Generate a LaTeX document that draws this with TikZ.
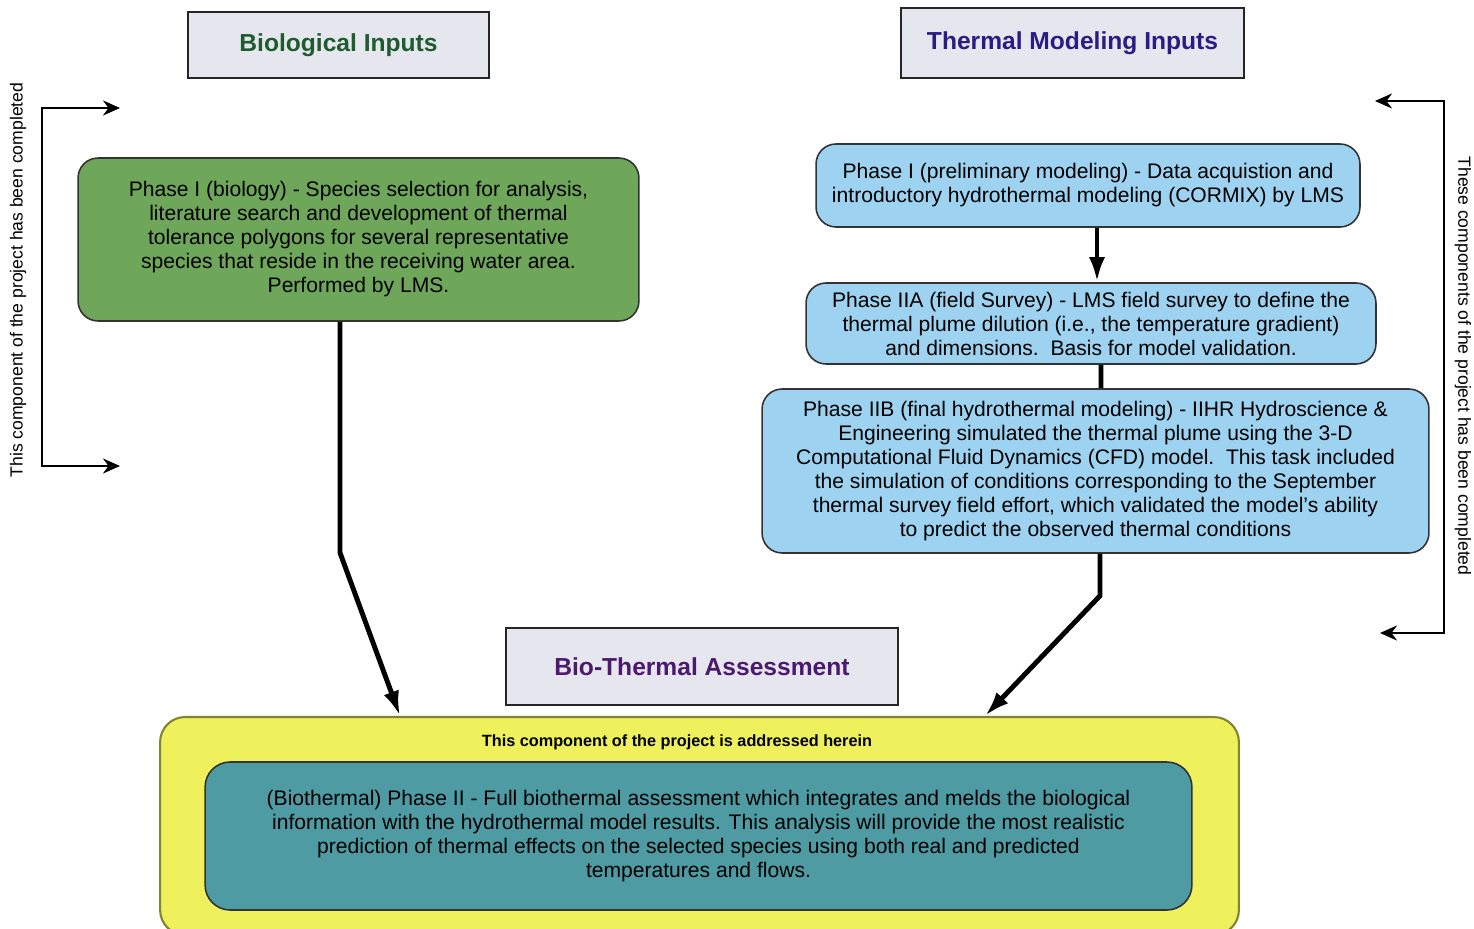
\documentclass[tikz,border=0pt]{standalone}
\usepackage{fontspec}
\setmainfont{Liberation Sans}
\usetikzlibrary{arrows.meta,calc}
\definecolor{TitleFill}{HTML}{E6E6EE}
\definecolor{BioGreen}{HTML}{6EA65A}
\definecolor{BioText}{HTML}{1E5B2E}
\definecolor{ThermBlue}{HTML}{9DD3F0}
\definecolor{ThermText}{HTML}{2B1C85}
\definecolor{AssessText}{HTML}{4B1A6E}
\definecolor{HereYellow}{HTML}{EEF05C}
\definecolor{HereTeal}{HTML}{4E9BA3}

\begin{document}
\begin{tikzpicture}[
  x=0.02cm,y=-0.02cm,
  font=\fontsize{12}{13.66}\selectfont,
  >=Latex,
  titlebox/.style={draw=black!85,line width=1.3pt,fill=TitleFill,inner sep=0pt,font=\fontsize{14}{16}\selectfont\bfseries},
  phasebox/.style={draw=black!80,line width=0.9pt,rounded corners=4mm,align=center,inner sep=0pt},
  biobox/.style={phasebox,fill=BioGreen},
  thermbox/.style={phasebox,fill=ThermBlue},
  flow/.style={-{Latex[length=5mm,width=3.2mm]},line width=2.8pt},
  bracket/.style={{Stealth[length=3.4mm,width=3mm]}-{Stealth[length=3.4mm,width=3mm]},line width=1.3pt}
]
\useasboundingbox (0,0) rectangle (1474,929);

% titles
\node[titlebox,minimum width=6.02cm,minimum height=1.32cm,text=BioText] (biotitle) at (338.5,45) {Biological Inputs};
\node[titlebox,minimum width=6.86cm,minimum height=1.40cm,text=ThermText] (thermtitle) at (1072.5,43) {Thermal Modeling Inputs};
\node[titlebox,minimum width=7.84cm,minimum height=1.54cm,text=AssessText] (assesstitle) at (702,666.5) {Bio-Thermal Assessment};

% biology input
\node[biobox,minimum width=11.22cm,minimum height=3.26cm] (bio) at (358.5,239.5)
  {Phase I (biology) - Species selection for analysis,\\
   literature search and development of thermal\\
   tolerance polygons for several representative\\
   species that reside in the receiving water area.\\
   Performed by LMS.};

% thermal modeling inputs
\node[thermbox,minimum width=10.88cm,minimum height=1.66cm] (thermone) at (1088,185.5)
  {Phase I (preliminary modeling) - Data acquistion and\\
   introductory hydrothermal modeling (CORMIX) by LMS};
\node[thermbox,minimum width=11.40cm,minimum height=1.62cm] (thermtwoa) at (1091,323.5)
  {Phase IIA (field Survey) - LMS field survey to define the\\
   thermal plume dilution (i.e., the temperature gradient)\\
   and dimensions.\ \ Basis for model validation.};
\node[thermbox,minimum width=13.34cm,minimum height=3.28cm] (thermtwob) at (1095.5,471)
  {Phase IIB (final hydrothermal modeling) - IIHR Hydroscience \&\\
   Engineering simulated the thermal plume using the 3-D\\
   Computational Fluid Dynamics (CFD) model.\ \ This task included\\
   the simulation of conditions corresponding to the September\\
   thermal survey field effort, which validated the model's ability\\
   to predict the observed thermal conditions};

% assessment
\node[phasebox,draw=black!45!HereYellow,line width=1.2pt,fill=HereYellow,rounded corners=5mm,
  minimum width=21.58cm,minimum height=4.36cm] (here) at (699.5,826) {};
\node[font=\fontsize{9.25}{11}\selectfont\bfseries] (herenote) at (677,742)
  {This component of the project is addressed herein};
\node[phasebox,fill=HereTeal,rounded corners=5mm,minimum width=19.74cm,minimum height=2.96cm] (assess) at (698.5,836)
  {(Biothermal) Phase II - Full biothermal assessment which integrates and melds the biological\\
   information with the hydrothermal model results. This analysis will provide the most realistic\\
   prediction of thermal effects on the selected species using both real and predicted\\
   temperatures and flows.};

% connectors
\draw[flow] ([shift={(-18.5,0)}]bio.south) -- ++(0,231) -- ([shift={(-299.5,0)}]here.north);
\draw[flow] ([shift={(9,0)}]thermone.south) -- ([shift={(6,0)}]thermtwoa.north);
\draw[line width=2.8pt] ([shift={(10,0)}]thermtwoa.south) -- ([shift={(5.5,0)}]thermtwob.north);
\draw[flow] ([shift={(4.5,0)}]thermtwob.south) -- ++(0,42) -- ([shift={(285.5,0)}]here.north);

% brackets
\coordinate (lefttop) at (120,108);
\coordinate (leftbot) at (120,466);
\draw[bracket] (lefttop) -- (42,108) -- (42,466) -- (leftbot);
\node[rotate=90,font=\fontsize{10}{12}\selectfont] (leftnote) at (18,280)
  {This component of the project has been completed};
\coordinate (righttop) at (1375,101);
\coordinate (rightbot) at (1380,633);
\draw[bracket] (righttop) -- (1444,101) -- (1444,633) -- (rightbot);
\node[rotate=-90,font=\fontsize{10}{12}\selectfont] (rightnote) at (1463,366)
  {These components of the project has been completed};
\end{tikzpicture}
\end{document}
